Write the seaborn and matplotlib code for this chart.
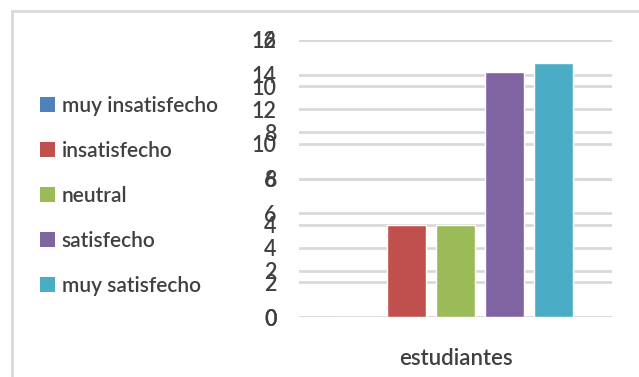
import matplotlib
matplotlib.use("Agg")
import matplotlib.pyplot as plt
from matplotlib.patches import Patch, Rectangle
import seaborn as sns
import pandas as pd

# Survey answers of the students
categories = ["muy insatisfecho", "insatisfecho", "neutral", "satisfecho", "muy satisfecho"]
values = [0, 4, 4, 10.6, 11]
colors = ["#4F81BD", "#C0504D", "#9BBB59", "#8064A2", "#4BACC6"]
group_label = "estudiantes"

# Two value scales shown on the left side
ticks_main = [0, 2, 4, 6, 8, 10, 12]
ticks_alt = [0, 2, 4, 6, 8, 10, 12, 14, 16]

sns.set_theme(style="white")
plt.rcParams["font.family"] = ["Lato", "DejaVu Sans"]
plt.rcParams["font.weight"] = "semibold"

df = pd.DataFrame({"grupo": [group_label] * len(categories),
                   "respuesta": categories,
                   "valor": values})

fig = plt.figure(figsize=(6.39, 3.77), dpi=100)
ax = fig.add_axes([299 / 639, 60 / 377, 313 / 639, 277 / 377])

text_color = "#404040"
grid_color = "#d9d9d9"

sns.barplot(data=df, x="grupo", y="valor", hue="respuesta",
            hue_order=categories, palette=colors, width=0.78, gap=0.2,
            saturation=1, legend=False, ax=ax, zorder=3)

ax.set_ylim(0, ticks_main[-1])
ax.set_yticks(ticks_main)
ax.set_xlim(-0.5, 0.5)
ax.set_xlabel("")
ax.set_ylabel("")
ax.yaxis.grid(True, color=grid_color, linewidth=2)
ax.set_axisbelow(True)
for s in ax.spines.values():
    s.set_visible(False)
ax.tick_params(axis="y", length=0, pad=16, labelsize=15.5, labelcolor=text_color)
ax.tick_params(axis="x", length=0, pad=22, labelsize=16, labelcolor=text_color)

# second scale sharing the same plot box
ax2 = ax.twinx()
ax2.set_ylim(0, ticks_alt[-1])
ax2.set_yticks(ticks_alt)
ax2.yaxis.tick_left()
ax2.yaxis.grid(True, color=grid_color, linewidth=2)
ax2.set_zorder(ax.get_zorder() - 1)
ax.patch.set_visible(False)
for s in ax2.spines.values():
    s.set_visible(False)
ax2.tick_params(axis="y", length=0, pad=16, labelsize=15.5, labelcolor=text_color)

# legend on the left
handles = [Patch(facecolor=c, edgecolor="none") for c in colors]
fig.legend(handles, categories, loc="upper left",
           bbox_to_anchor=(40 / 639, 1 - 96 / 377), frameon=False,
           borderpad=0, borderaxespad=0,
           fontsize=15, handlelength=0.72, handleheight=0.72,
           handletextpad=0.32, labelspacing=1.2, labelcolor=text_color)

# chart frame
fig.patches.append(Rectangle((12 / 639, -0.05), 1.2, 1.05 - 11 / 377,
                             transform=fig.transFigure, fill=False,
                             edgecolor=grid_color, linewidth=2))

fig.savefig("out.png", dpi=100)
